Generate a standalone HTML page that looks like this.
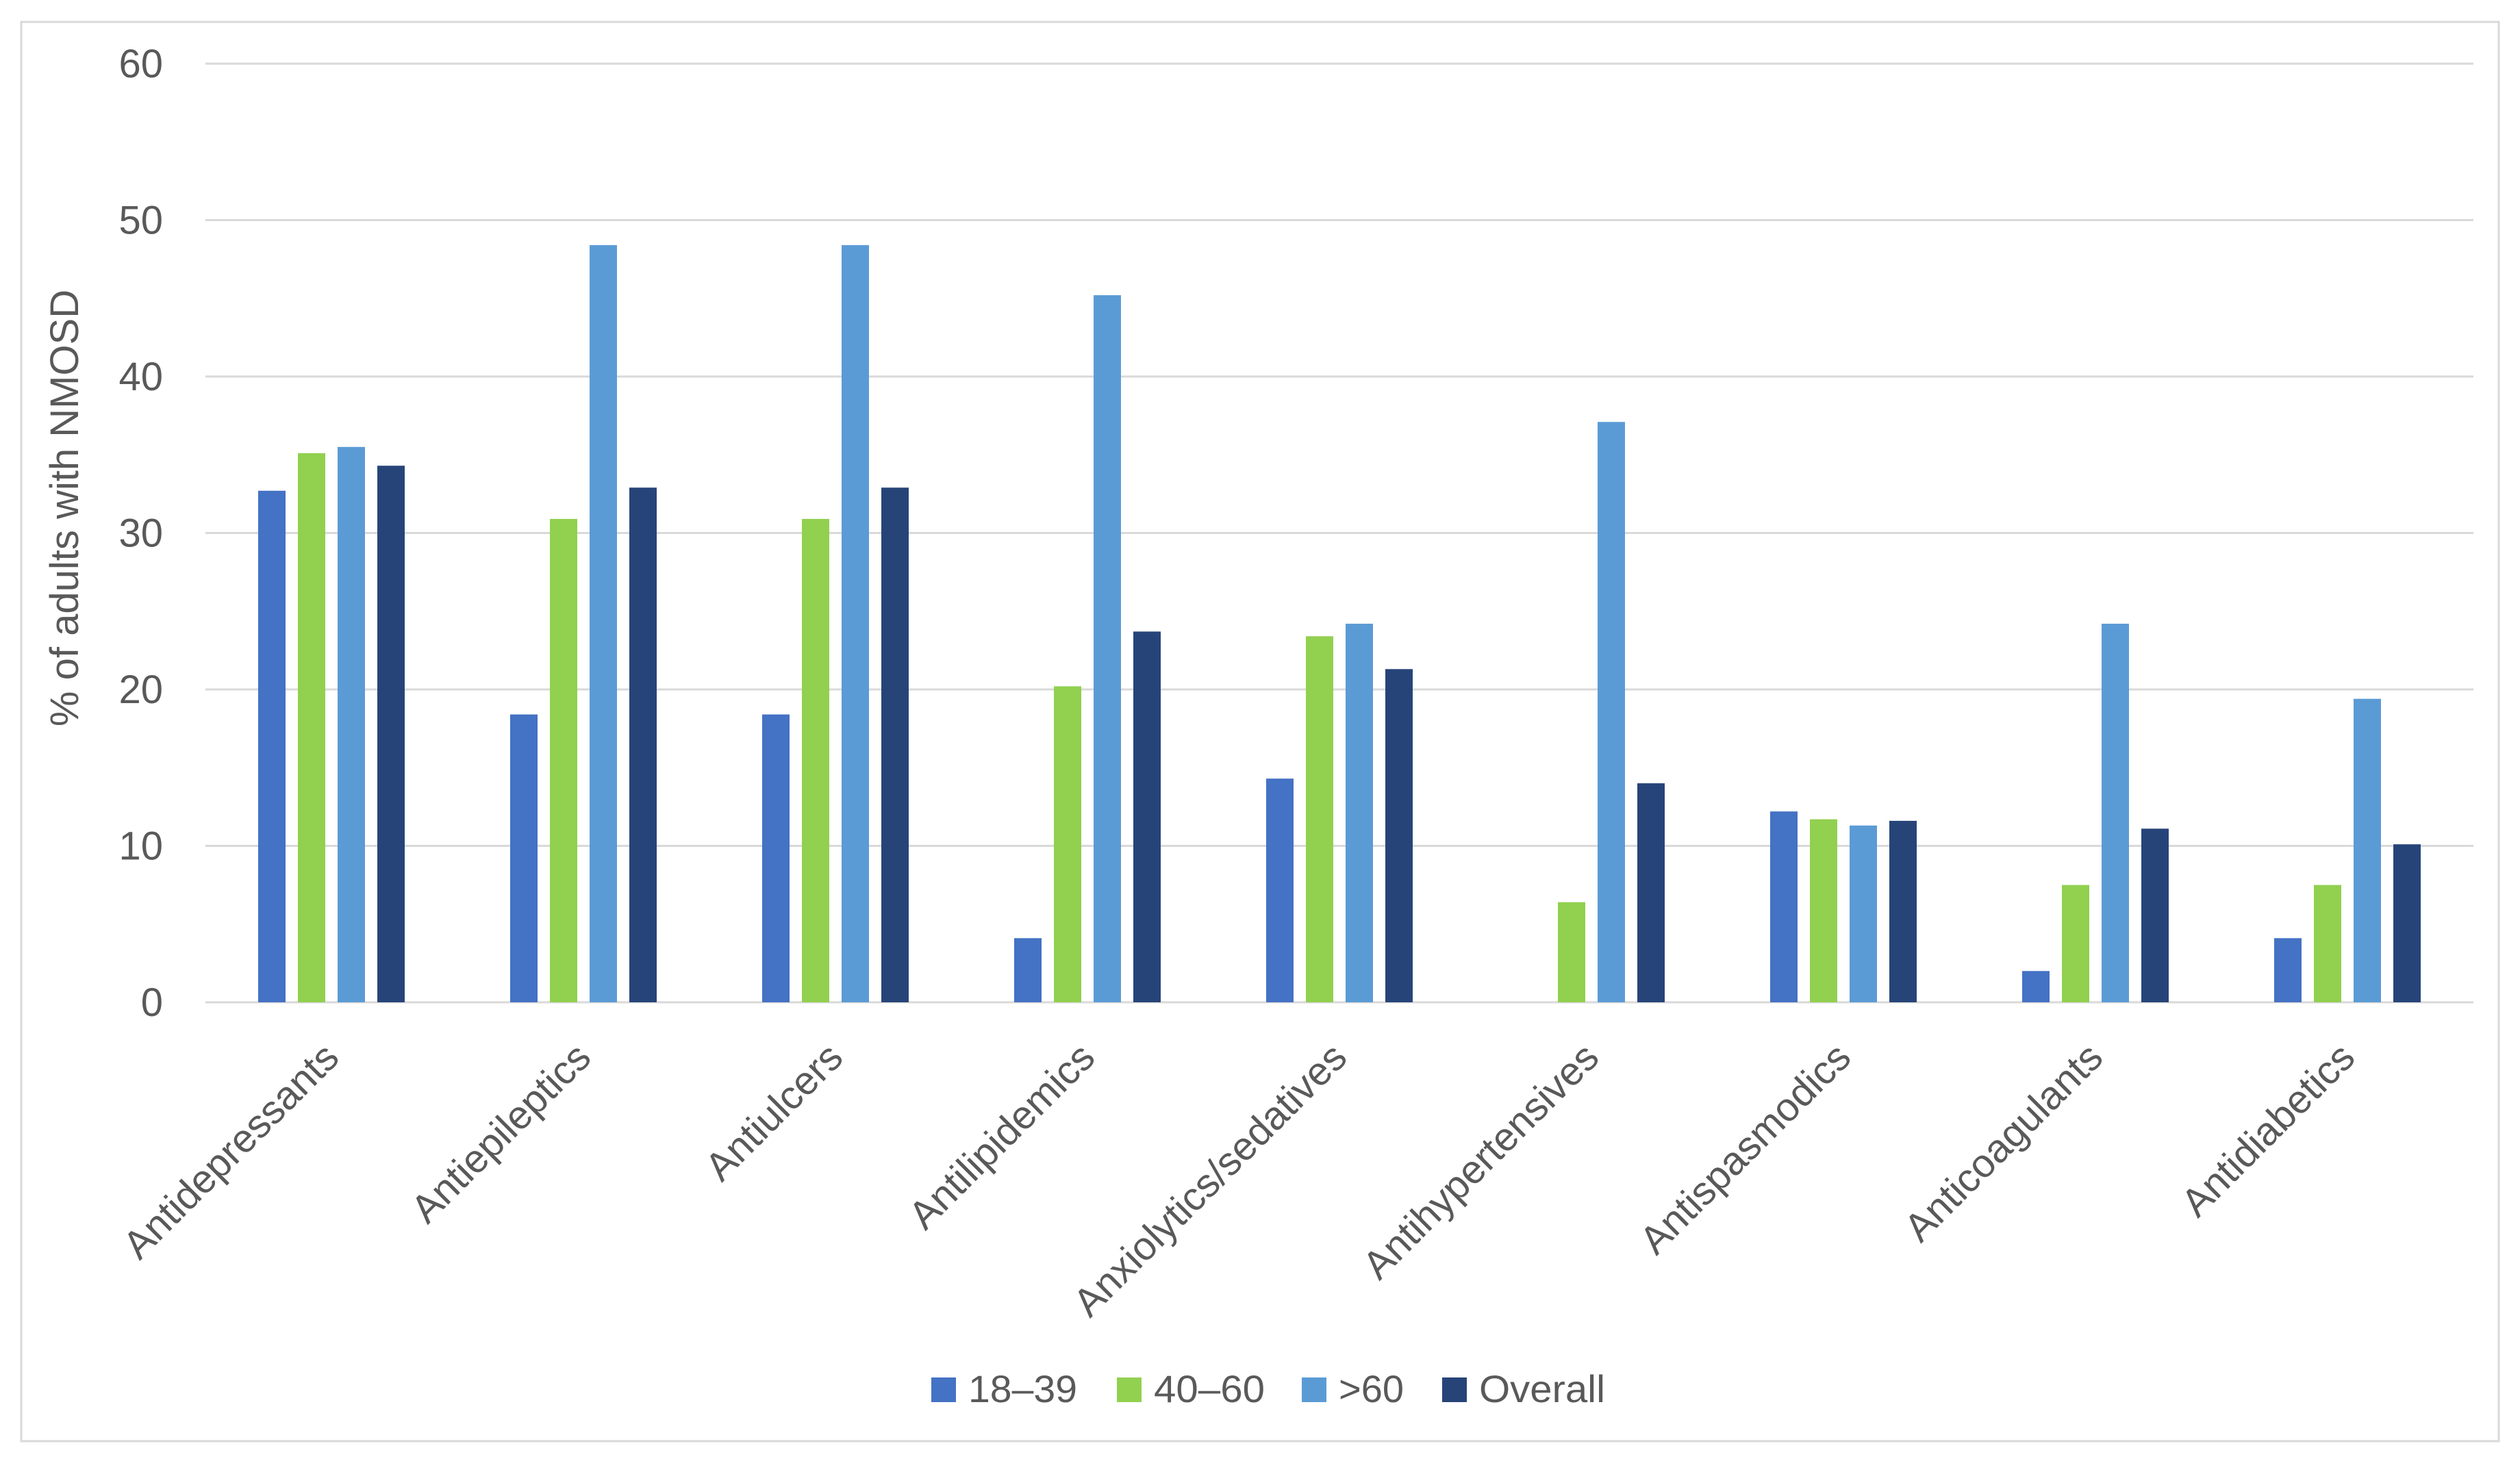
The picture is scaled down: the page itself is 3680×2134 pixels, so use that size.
<!DOCTYPE html>
<html><head><meta charset="utf-8"><style>
html,body{margin:0;padding:0;background:#fff;}
svg{display:block;font-family:"Liberation Sans",sans-serif;}
</style></head><body>
<svg id="chart" width="3680" height="2134" viewBox="0 0 3680 2134">
<rect x="31" y="32" width="3618" height="2073" fill="#fff" stroke="#d9d9d9" stroke-width="3"/>
<g id="grid"></g>
<g id="yticks"></g>
<g id="bars"></g>
<g id="xlabels"></g>
<text x="114" y="742" transform="rotate(-90 114 742)" text-anchor="middle" font-size="58" fill="#595959">% of adults with NMOSD</text>
<g id="legend"></g>
</svg>
<script>
const categories = ["Antidepressants","Antiepileptics","Antiulcers","Antilipidemics","Anxiolytics/sedatives","Antihypertensives","Antispasmodics","Anticoagulants","Antidiabetics"];
const s1839 = [32.7,18.4,18.4,4.1,14.3,0,12.2,2.0,4.1];
const s4060 = [35.1,30.9,30.9,20.2,23.4,6.4,11.7,7.5,7.5];
const s60 = [35.5,48.4,48.4,45.2,24.2,37.1,11.3,24.2,19.4];
const sOverall = [34.3,32.9,32.9,23.7,21.3,14.0,11.6,11.1,10.1];
const seriesNames = ["18–39","40–60",">60","Overall"];
const yTicks = [0,10,20,30,40,50,60];

const NS="http://www.w3.org/2000/svg";
const colors=["#4472C4","#92D050","#5B9BD5","#264478"];
const series=[s1839,s4060,s60,sOverall];
const plotL=300, plotR=3612, y0=1464, y60=93;
const yScale=v=>y0-(v/60)*(y0-y60);
const groupW=(plotR-plotL)/categories.length;
const xGroup=i=>plotL+groupW*(i+0.5);
const barW=40, barStep=58;
function mk(tag,attrs,parent){const e=document.createElementNS(NS,tag);for(const k in attrs)e.setAttribute(k,attrs[k]);parent.appendChild(e);return e;}
const grid=document.getElementById('grid'), yt=document.getElementById('yticks');
yTicks.forEach(t=>{
  const l=mk('line',{x1:plotL,x2:plotR,y1:yScale(t),y2:yScale(t),stroke:'#d9d9d9','stroke-width':3},grid);
  
  
  const tx=mk('text',{x:238,y:yScale(t)+20,'text-anchor':'end','font-size':58,fill:'#595959'},yt);
  tx.textContent=t;
  
  
});
const bars=document.getElementById('bars'), xl=document.getElementById('xlabels');
categories.forEach((c,i)=>{
  const cx=xGroup(i);
  series.forEach((s,j)=>{
    const x=cx-(barStep*1.5)+j*barStep-barW/2;
    const v=s[i];
    const r=mk('rect',{x:x,y:yScale(v),width:barW,height:yScale(0)-yScale(v),fill:colors[j]},bars);
    
    
  });
  const ax=cx+14, ay=1548;
  const t=mk('text',{x:ax,y:ay,'text-anchor':'end','font-size':58,fill:'#595959',transform:`rotate(-45 ${ax} ${ay})`},xl);
  t.textContent=c;
  
  
});
const lg=document.getElementById('legend');
const lx=[1360,1631,1901,2106];
const lw=[159,162,95,184];
seriesNames.forEach((n,j)=>{
  const sq=mk('rect',{x:lx[j],y:2012,width:36,height:36,fill:colors[j]},lg);
  
  
  const t=mk('text',{x:lx[j]+54,y:2048,'font-size':56,fill:'#595959',textLength:lw[j],lengthAdjust:'spacingAndGlyphs'},lg);
  t.textContent=n;
  
  
});
</script>
</body></html>
